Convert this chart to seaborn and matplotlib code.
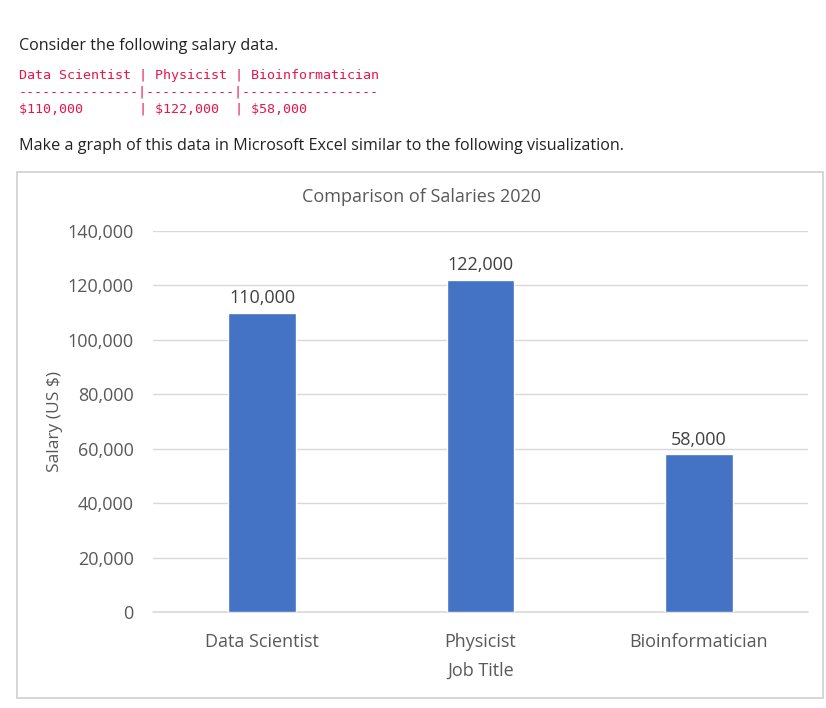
import pandas as pd
import matplotlib.pyplot as plt
import seaborn as sns
from matplotlib.patches import Rectangle
from matplotlib.ticker import FuncFormatter

# Dati del grafico
jobs = ['Data Scientist', 'Physicist', 'Bioinformatician']
salaries = [110000, 122000, 58000]
y_ticks = [0, 20000, 40000, 60000, 80000, 100000, 120000, 140000]

# Righe del testo in codice (tabella markdown)
code_lines = [
    'Data Scientist | Physicist | Bioinformatician',
    '---------------|-----------|-----------------',
    '$110,000       | $122,000  | $58,000',
]

df = pd.DataFrame({'job': jobs, 'salary': salaries})

sns.set_theme(style='white')
plt.rcParams['font.family'] = ['Open Sans', 'DejaVu Sans']

W, H = 826, 708
fig = plt.figure(figsize=(W / 100, H / 100), dpi=100)
fig.patch.set_facecolor('white')

def fx(px):
    return px / W

def fy(py):
    return 1 - py / H

text_col = '#222222'
code_col = '#e8154b'
gray = '#595959'

# Testo della pagina
fig.text(fx(19), fy(46), 'Consider the following salary data.', fontsize=11.6,
         color=text_col, va='center', ha='left')
for i, line in enumerate(code_lines):
    fig.text(fx(19), fy(75 + i * 17), line, fontsize=9.6, color=code_col,
             family='DejaVu Sans Mono', va='center', ha='left')
fig.text(fx(19), fy(146), 'Make a graph of this data in Microsoft Excel similar to the following visualization.',
         fontsize=11.6, color=text_col, va='center', ha='left')

# Cornice del grafico
fig.patches.append(Rectangle((fx(17), fy(698)), fx(823) - fx(17), fy(172) - fy(698),
                             transform=fig.transFigure, fill=False,
                             edgecolor='#d0d0d0', linewidth=1.2))

# Titolo centrato sulla cornice
fig.text(fx(421), fy(197), 'Comparison of Salaries 2020', fontsize=13,
         color=gray, ha='center', va='center')

# Area del grafico
ax = fig.add_axes([fx(153), fy(612), fx(808) - fx(153), fy(231) - fy(612)])
sns.barplot(data=df, x='job', y='salary', color='#4472C4', width=0.31,
            saturation=1, ax=ax)
ax.set_ylim(0, 140000)
ax.set_yticks(y_ticks)
ax.yaxis.set_major_formatter(FuncFormatter(lambda v, p: f'{v:,.0f}'))
ax.grid(axis='y', color='#d9d9d9', linewidth=1)
ax.axhline(0, color='#d9d9d9', linewidth=1.2, clip_on=False, zorder=0.5)
ax.set_axisbelow(True)
for s in ax.spines.values():
    s.set_visible(False)
ax.tick_params(axis='both', length=0, labelsize=13, labelcolor=gray)
ax.tick_params(axis='y', pad=14)
ax.tick_params(axis='x', pad=15)

ax.bar_label(ax.containers[0], labels=[f'{v:,}' for v in salaries],
             padding=4, fontsize=13, color='#404040')

ax.set_xlabel('Job Title', fontsize=13, color=gray, labelpad=8)
ax.set_ylabel('Salary (US $)', fontsize=12.5, color=gray, labelpad=3)

plt.savefig('out.png', dpi=100)
